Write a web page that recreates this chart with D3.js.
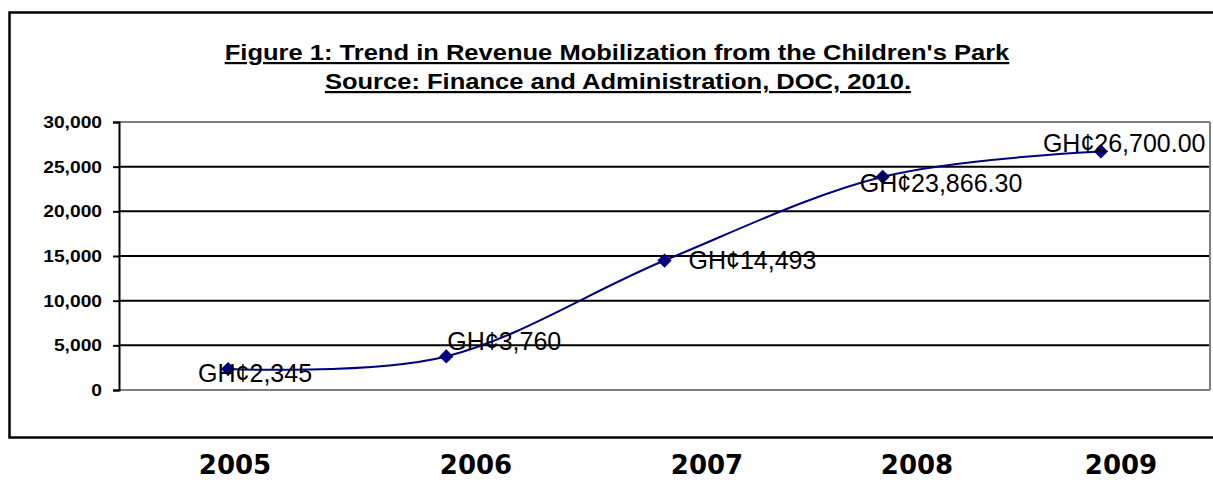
<!DOCTYPE html>
<html>
<head>
<meta charset="utf-8">
<script src="https://cdn.jsdelivr.net/npm/d3@7"></script>
<style>
  body { margin: 0; background: white; }
</style>
</head>
<body>
<div id="container"></div>
<script>
let w = 1213;
let h = 480;

// data
let years = ["2005", "2006", "2007", "2008", "2009"];
let revenue = [2345, 3760, 14493, 23866.3, 26700];
let revenueLabels = ["GH¢2,345", "GH¢3,760", "GH¢14,493", "GH¢23,866.30", "GH¢26,700.00"];
let yTicks = [0, 5000, 10000, 15000, 20000, 25000, 30000];

let viz = d3.select("#container")
  .append("svg")
    .attr("width", w)
    .attr("height", h)
    .style("background-color", "white")
;

// outer chart frame
viz.append("rect")
  .attr("x", 9.5)
  .attr("y", 12.5)
  .attr("width", 1215)
  .attr("height", 425)
  .attr("fill", "none")
  .attr("stroke", "black")
  .attr("stroke-width", 2.5)
;

let plotLeft = 119, plotRight = 1210, plotTop = 122, plotBottom = 390;

let xScale = d3.scaleBand().domain(years).range([plotLeft, plotRight]);
let yScale = d3.scaleLinear().domain([0, 30000]).range([plotBottom, plotTop]);

function xPosition(d, i) {
  return xScale(years[i]) + xScale.bandwidth() / 2;
}
function yPosition(d, i) {
  return yScale(d);
}

// stretch text a bit wider, the source picture is wider than its fonts
function widen(sel, k) {
  sel.each(function() {
    let len = this.getComputedTextLength();
    d3.select(this)
      .attr("textLength", len * k)
      .attr("lengthAdjust", "spacingAndGlyphs");
  });
}

// title
let title = viz.append("text")
  .attr("text-anchor", "middle")
  .style("font-family", "'Liberation Sans', Arial, sans-serif")
  .style("font-weight", "bold")
  .style("font-size", "22px")
  .style("text-decoration", "underline")
;
title.append("tspan").attr("x", 617).attr("y", 60).text("Figure 1: Trend in Revenue Mobilization from the Children's Park");
title.append("tspan").attr("x", 618).attr("y", 89).text("Source: Finance and Administration, DOC, 2010.");
widen(title.selectAll("tspan"), 1.16);

// gridlines
viz.append("g")
  .selectAll("line")
  .data(yTicks)
  .enter()
  .append("line")
    .attr("x1", plotLeft)
    .attr("x2", plotRight)
    .attr("y1", d => yScale(d))
    .attr("y2", d => yScale(d))
    .attr("stroke", d => (d == 0 || d == 30000) ? "#808080" : "black")
    .attr("stroke-width", 2)
;
// plot area right edge
viz.append("line")
  .attr("x1", plotRight).attr("x2", plotRight)
  .attr("y1", plotTop).attr("y2", plotBottom)
  .attr("stroke", "#808080")
  .attr("stroke-width", 2)
;

// y axis
let yAxis = d3.axisLeft(yScale)
  .tickValues(yTicks)
  .tickSize(6)
  .tickPadding(11)
  .tickFormat(d3.format(","));

let yg = viz.append("g")
  .attr("transform", "translate(" + plotLeft + ",0)")
  .call(yAxis);
yg.select(".domain").attr("stroke", "black").attr("stroke-width", 2);
yg.selectAll(".tick line").attr("stroke", "black").attr("stroke-width", 2);
yg.selectAll(".tick text")
  .style("font-family", "'Liberation Sans', Arial, sans-serif")
  .style("font-weight", "bold")
  .style("font-size", "17px")
  .attr("fill", "black");
widen(yg.selectAll(".tick text"), 1.13);

// smoothed line
let line = d3.line()
  .x(xPosition)
  .y(yPosition)
  .curve(d3.curveCardinal.tension(0));

viz.append("path")
  .datum(revenue)
  .attr("d", line)
  .attr("fill", "none")
  .attr("stroke", "#000080")
  .attr("stroke-width", 2);

// diamond markers
viz.append("g")
  .selectAll("path")
  .data(revenue)
  .enter()
  .append("path")
    .attr("d", d3.symbol().type(d3.symbolDiamond2).size(130))
    .attr("transform", (d, i) => "translate(" + xPosition(d, i) + "," + yPosition(d, i) + ")")
    .attr("fill", "#000080");

// data labels, offsets mimic the spreadsheet placement
let labelDx = [-30, 1, 24, -23, -58];
let labelDy = [13, -6, 8, 15, 1];

viz.append("g")
  .selectAll("text")
  .data(revenue)
  .enter()
  .append("text")
    .text((d, i) => revenueLabels[i])
    .attr("x", (d, i) => xPosition(d, i) + labelDx[i])
    .attr("y", (d, i) => yPosition(d, i) + labelDy[i])
    .style("font-family", "'Liberation Sans', Arial, sans-serif")
    .style("font-size", "25px")
    .attr("fill", "black");

// year row under the chart
let yearX = d3.scaleOrdinal().domain(years).range([235, 476, 707, 917, 1121]);

viz.append("g")
  .selectAll("text")
  .data(years)
  .enter()
  .append("text")
    .text(d => d)
    .attr("x", d => yearX(d))
    .attr("y", 474)
    .attr("text-anchor", "middle")
    .style("font-family", "'DejaVu Sans', sans-serif")
    .style("font-weight", "bold")
    .style("font-size", "26px")
    .attr("fill", "black");
</script>
</body>
</html>
